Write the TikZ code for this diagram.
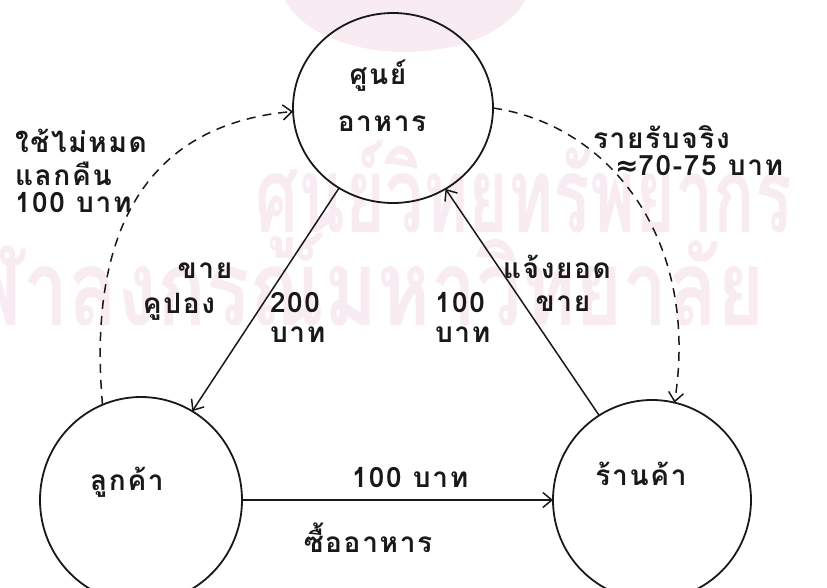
\documentclass[tikz,border=0pt]{standalone}
\usepackage{fontspec}
\usetikzlibrary{arrows.meta,shapes.geometric}
\newfontfamily\thai[Script=Thai]{Loma}
\newfontfamily\thaisp[Script=Thai,LetterSpace=6]{Loma}
\newfontfamily\symfont{DejaVu Sans}
\definecolor{wm}{RGB}{248,236,242}
\definecolor{ink}{RGB}{25,25,25}
\begin{document}
\begin{tikzpicture}[x=1pt,y=-1pt,
  circ/.style={ellipse, draw=ink, line width=1.8pt, inner sep=0pt, outer sep=0pt},
  lbl/.style={font=\thaisp\bfseries\fontsize{28}{34}\selectfont, text=ink, inner sep=0pt, outer sep=0pt},
  wmark/.style={font=\thai\bfseries\fontsize{105}{110}\selectfont, text=wm, inner sep=0pt},
  flow/.style={draw=ink, line width=1.5pt, -{Straight Barb[length=9pt,width=15pt,line width=1.5pt]}},
  dflow/.style={flow, dash pattern=on 9pt off 7pt}]
\useasboundingbox (0,0) rectangle (827,587);
\fill[white] (0,0) rectangle (827,587);
% watermark
\fill[wm] (405,-20) ellipse [x radius=125, y radius=72];
\node[wmark, anchor=base east] (wm1) at (792,232) {\scalebox{0.65}[1]{ศูนย์วิทยทรัพยากร}};
\node[wmark, anchor=base east] (wm2) at (765,325) {\scalebox{0.77}[1]{จุฬาลงกรณ์มหาวิทยาลัย}};
% circles
\node[circ, minimum width=200pt, minimum height=190pt] (food) at (393,108) {};
\node[circ, minimum width=202pt, minimum height=206pt] (cust) at (141,500) {};
\node[circ, minimum width=198pt, minimum height=200pt] (shop) at (652,500) {};
% circle labels
\node[lbl, anchor=base] (foodA) at (378,84) {ศูนย์};
\node[lbl, anchor=base] (foodB) at (382,131) {อาหาร};
\node[lbl, anchor=base] (custL) at (127,490) {ลูกค้า};
\node[lbl, anchor=base] (shopL) at (641,485) {ร้านค้า};
% connectors
\draw[flow] (food.236) -- (cust.60);
\draw[flow] (shop.122) -- (food.-57);
\draw[flow] (cust.east) -- (shop.west);
\draw[dflow] (cust.112) .. controls (88,240) and (140,125) .. (food.182);
\draw[dflow] (food.0) .. controls (610,125) and (700,240) .. (shop.77);
% edge labels
\node[lbl, anchor=base west] (l1) at (15,152) {ใช้ไม่หมด};
\node[lbl, anchor=base west] (l2) at (15,185) {แลกคืน};
\node[lbl, anchor=base west] (l3) at (15,212) {100 บาท};
\node[lbl, anchor=base west] (r1) at (593,148) {รายรับจริง};
\node[lbl, anchor=base west] (r2) at (615,175) {{\symfont\bfseries ≈}70-75 บาท};
\node[lbl, anchor=base] (s1) at (205,278) {ขาย};
\node[lbl, anchor=base] (s2) at (179,313) {คูปอง};
\node[lbl, anchor=base west] (a1) at (270,312) {200};
\node[lbl, anchor=base west] (a2) at (270,342) {บาท};
\node[lbl, anchor=base west] (b1) at (435,312) {100};
\node[lbl, anchor=base west] (b2) at (435,342) {บาท};
\node[lbl, anchor=base west] (c1) at (503,278) {แจ้งยอด};
\node[lbl, anchor=base] (c2) at (563,311) {ขาย};
\node[lbl, anchor=base] (m1) at (410,487) {100 บาท};
\node[lbl, anchor=base] (m2) at (368,552) {ซื้ออาหาร};
\end{tikzpicture}
\end{document}
